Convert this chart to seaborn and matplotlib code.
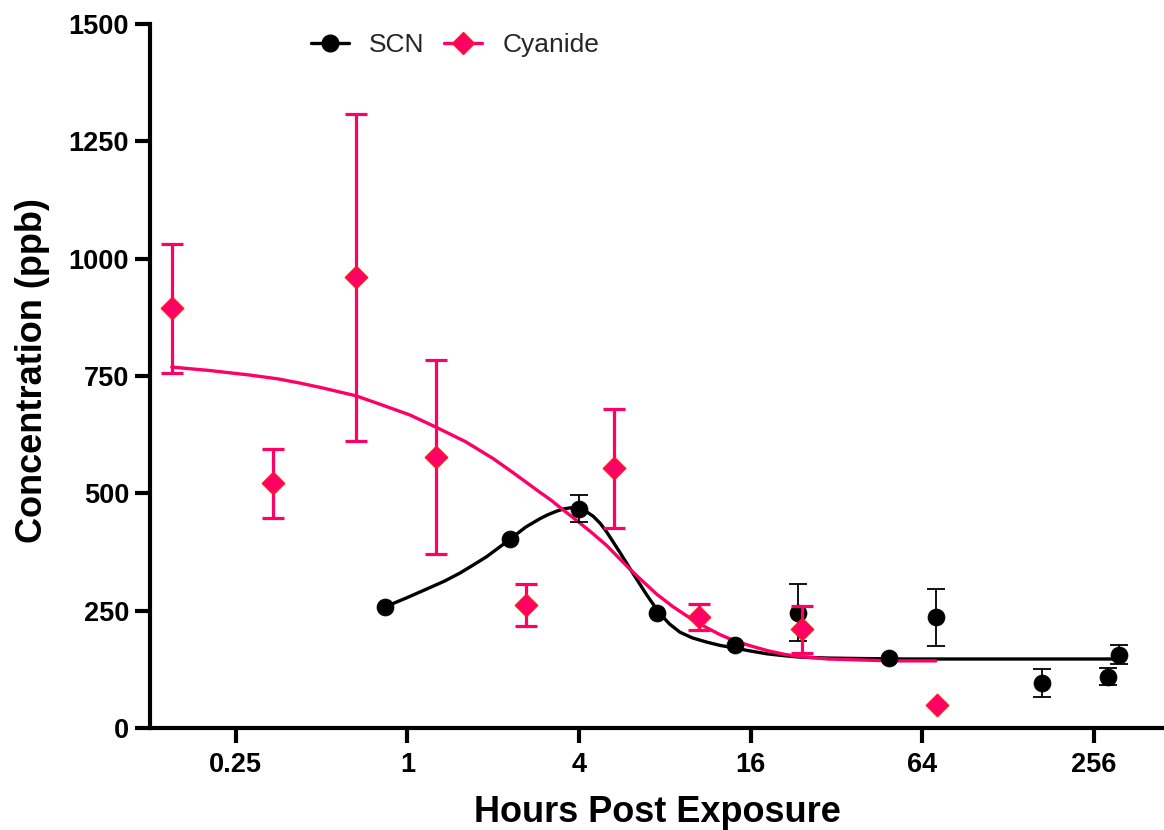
"""
SCN and cyanide concentration vs hours post exposure (log2 time axis),
mean +/- error bars with the fitted curves.
"""

import numpy as np
import matplotlib
matplotlib.use("Agg")
import matplotlib.pyplot as plt
from matplotlib.lines import Line2D
from matplotlib.ticker import NullLocator
import seaborn as sns


# measured points (hours post exposure, ppb)
SCN_HOURS = [0.834, 2.29, 4.01, 7.5, 14.1, 23.5, 49.1, 71.5, 169, 288, 313]
SCN_MEAN = [258, 402, 467, 244, 176, 246, 150, 236, 95, 109, 156]
SCN_ERR = [0, 0, 29, 0, 0, 60, 0, 61, 30, 18, 20]

CN_HOURS = [0.149, 0.338, 0.658, 1.26, 2.61, 5.31, 10.58, 24.3, 72.3]
CN_MEAN = [894, 521, 960, 578, 262, 553, 237, 210, 48]
CN_ERR = [137, 74, 348, 207, 45, 127, 28, 50, 0]

# fitted curves
SCN_FIT_HOURS = [0.834, 1.0, 1.168, 1.35, 1.528, 1.7, 1.897, 2.08, 2.29,
                 2.6, 2.92, 3.1, 3.34, 3.55, 3.72, 3.95, 4.2, 4.49, 4.75,
                 5.0, 5.57, 6.21, 6.91, 7.59, 8.3, 9.05, 10.0, 11.23, 12.5,
                 13.9, 16.0, 18.3, 21.0, 23.9, 30.0, 38.8, 55.0, 72.0, 150.0,
                 300.0]
SCN_FIT_PPB = [258, 278, 296, 313, 330, 347, 365, 383, 402,
               428, 446, 454, 462, 467, 469, 469, 463, 451, 436,
               418, 374, 328, 284, 248, 222, 204, 192, 183, 176,
               171, 164, 158, 154, 151, 149, 148, 147, 147, 147,
               147]

CN_FIT_HOURS = [0.149, 0.2, 0.280, 0.35, 0.419, 0.5, 0.658, 0.8, 1.02,
                1.26, 1.6, 2.0, 2.3, 2.62, 2.92, 3.2, 3.43, 3.82, 4.4,
                5.0, 6.0, 6.55, 7.5, 8.57, 10.0, 11.2, 12.5, 13.9, 16.0,
                18.3, 21.0, 23.9, 30.0, 38.8, 50.0, 71.5]
CN_FIT_PPB = [769, 762, 752, 744, 735, 725, 708, 690, 667,
              641, 610, 574, 548, 523, 502, 485, 470, 448, 418,
              389, 340, 318, 285, 258, 231, 214, 199, 187, 175,
              165, 157, 152, 147, 145, 143, 143]

X_TICKS = [0.25, 1, 4, 16, 64, 256]
X_TICK_LABELS = ["0.25", "1", "4", "16", "64", "256"]
Y_TICKS = [0, 250, 500, 750, 1000, 1250, 1500]

PINK = "#ff0066"

sns.set_theme(style="ticks")
plt.rcParams["font.family"] = ["Liberation Sans", "DejaVu Sans"]

fig = plt.figure(figsize=(11.64, 8.30), dpi=100)
ax = fig.add_axes([0.1289, 0.1229, 0.8711, 0.8482])

# fitted curves
sns.lineplot(x=SCN_FIT_HOURS, y=SCN_FIT_PPB, ax=ax, color="black", lw=2.4,
             sort=False, estimator=None, zorder=2)
sns.lineplot(x=CN_FIT_HOURS, y=CN_FIT_PPB, ax=ax, color=PINK, lw=2.4,
             sort=False, estimator=None, zorder=2)

# SCN points + error bars
s_x, s_y, s_e = np.array(SCN_HOURS), np.array(SCN_MEAN), np.array(SCN_ERR)
m = s_e > 0
ax.errorbar(s_x[m], s_y[m], yerr=s_e[m], fmt="none", ecolor="black",
            elinewidth=1.3, capsize=6.5, capthick=1.3, zorder=3)
sns.scatterplot(x=SCN_HOURS, y=SCN_MEAN, ax=ax, marker="o", s=150,
                color="black", edgecolor="black", linewidth=0.5, zorder=4)

# cyanide points + error bars
c_x, c_y, c_e = np.array(CN_HOURS), np.array(CN_MEAN), np.array(CN_ERR)
m = c_e > 0
ax.errorbar(c_x[m], c_y[m], yerr=c_e[m], fmt="none", ecolor=PINK,
            elinewidth=2.3, capsize=8, capthick=2.3, zorder=5)
sns.scatterplot(x=CN_HOURS, y=CN_MEAN, ax=ax, marker="D", s=130,
                color=PINK, edgecolor="#ff1a1a", linewidth=1.0, zorder=6)

ax.set_xscale("log", base=2)
ax.set_xlim(2 ** -3, 2 ** 8.82)
ax.set_ylim(0, 1500)
ax.set_xticks(X_TICKS)
ax.set_xticklabels(X_TICK_LABELS)
ax.xaxis.set_minor_locator(NullLocator())
ax.set_yticks(Y_TICKS)

sns.despine(ax=ax)
for side in ("left", "bottom"):
    ax.spines[side].set_linewidth(3)
    ax.spines[side].set_color("black")
ax.tick_params(axis="both", length=11, width=3, color="black",
               labelsize=19.5, labelcolor="black")
ax.tick_params(axis="y", pad=4)
ax.tick_params(axis="x", pad=6)
for lab in ax.get_xticklabels() + ax.get_yticklabels():
    lab.set_fontweight("bold")

ax.set_xlabel("Hours Post Exposure", fontsize=26, fontweight="bold",
              color="black")
ax.set_ylabel("Concentration (ppb)", fontsize=26, fontweight="bold",
              color="black")
ax.xaxis.set_label_coords(0.5, -0.095)
ax.yaxis.set_label_coords(-0.099, 0.507)

handles = [
    Line2D([], [], color="black", marker="o", ms=12, lw=2.4),
    Line2D([], [], color=PINK, marker="D", ms=11, mfc=PINK, mec="#ff1a1a",
           lw=2.4),
]
fig.legend(handles, ["SCN", "Cyanide"], loc="center",
           bbox_to_anchor=(455 / 1164, 1 - 45 / 830), ncol=2, frameon=False,
           fontsize=19, handlelength=1.45, handletextpad=0.75,
           columnspacing=0.75)

fig.savefig("out.png", dpi=100)
plt.close(fig)
